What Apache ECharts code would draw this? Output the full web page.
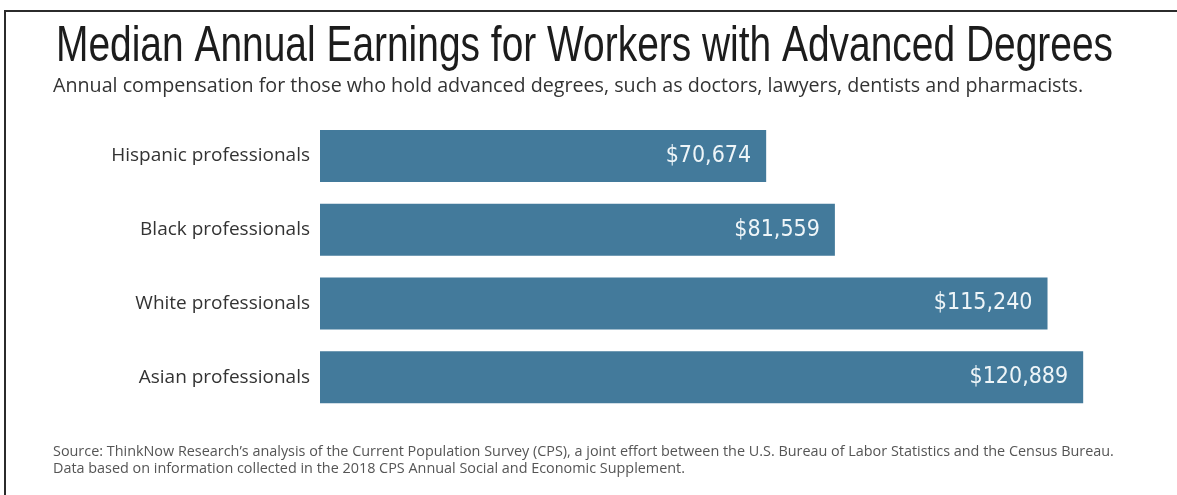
<!DOCTYPE html>
<html>
<head>
<meta charset="utf-8">
<script src="https://cdn.jsdelivr.net/npm/echarts@6/dist/echarts.min.js"></script>
<style>
  html, body { margin: 0; padding: 0; background: #fff; }
  #chart { width: 1177px; height: 495px; }
</style>
</head>
<body>
<div id="chart"></div>
<script>
// Median annual earnings by group (USD)
const categories = [
  'Hispanic professionals',
  'Black professionals',
  'White professionals',
  'Asian professionals'
];
const earnings = [70674, 81559, 115240, 120889];

const titleText = 'Median Annual Earnings for Workers with Advanced Degrees';
const subtitleText = 'Annual compensation for those who hold advanced degrees, such as doctors, lawyers, dentists and pharmacists.';
const sourceLines = [
  'Source: ThinkNow Research\u2019s analysis of the Current Population Survey (CPS), a joint effort between the U.S. Bureau of Labor Statistics and the Census Bureau.',
  'Data based on information collected in the 2018 CPS Annual Social and Economic Supplement.'
];

const fmtDollar = v => '$' + v.toLocaleString('en-US');

// The headline uses a condensed look: draw a regular face and squeeze it horizontally
const TITLE_FONT = '50px "Liberation Sans"';
const TITLE_WIDTH = 1057;
const measureCtx = document.createElement('canvas').getContext('2d');
measureCtx.font = TITLE_FONT;
const titleScale = TITLE_WIDTH / measureCtx.measureText(titleText).width;

const chart = echarts.init(document.getElementById('chart'), null, { renderer: 'canvas' });

chart.setOption({
  backgroundColor: '#ffffff',
  animation: false,
  title: [
    {
      text: subtitleText,
      left: 53,
      top: 76,
      padding: 0,
      textStyle: {
        fontFamily: 'Open Sans',
        fontWeight: 'normal',
        fontSize: 19.7,
        color: '#333333'
      }
    },
    {
      text: sourceLines.join('\n'),
      left: 53,
      top: 443,
      padding: 0,
      textStyle: {
        fontFamily: 'Open Sans',
        fontWeight: 'normal',
        fontSize: 14.4,
        lineHeight: 17,
        color: '#555555'
      }
    }
  ],
  graphic: [
    // frame lines along the top and left edges
    { type: 'line', shape: { x1: 5, y1: 11, x2: 1177, y2: 11 }, style: { stroke: '#2b2b2b', lineWidth: 2 } },
    { type: 'line', shape: { x1: 5, y1: 10, x2: 5, y2: 495 }, style: { stroke: '#2b2b2b', lineWidth: 2 } },
    {
      type: 'text',
      x: 56,
      y: 47,
      scaleX: titleScale,
      style: {
        text: titleText,
        font: TITLE_FONT,
        fill: '#1c1c1c',
        textAlign: 'left',
        textVerticalAlign: 'middle'
      }
    }
  ],
  grid: {
    left: 320,
    right: 36.3,
    top: 119,
    height: 295
  },
  xAxis: {
    type: 'value',
    min: 0,
    max: 130000,
    show: false
  },
  yAxis: {
    type: 'category',
    data: categories,
    inverse: true,
    axisLine: { show: false },
    axisTick: { show: false },
    splitLine: { show: false },
    axisLabel: {
      margin: 10,
      fontFamily: 'Open Sans',
      fontSize: 19,
      color: '#333333'
    }
  },
  series: [
    {
      type: 'bar',
      data: earnings,
      barWidth: 52,
      itemStyle: { color: '#437a9b' },
      label: {
        show: true,
        position: 'insideRight',
        distance: 15,
        formatter: p => fmtDollar(p.value),
        fontFamily: 'DejaVu Sans Condensed',
        fontSize: 23,
        color: '#eef5f8'
      }
    }
  ]
});
</script>
</body>
</html>
